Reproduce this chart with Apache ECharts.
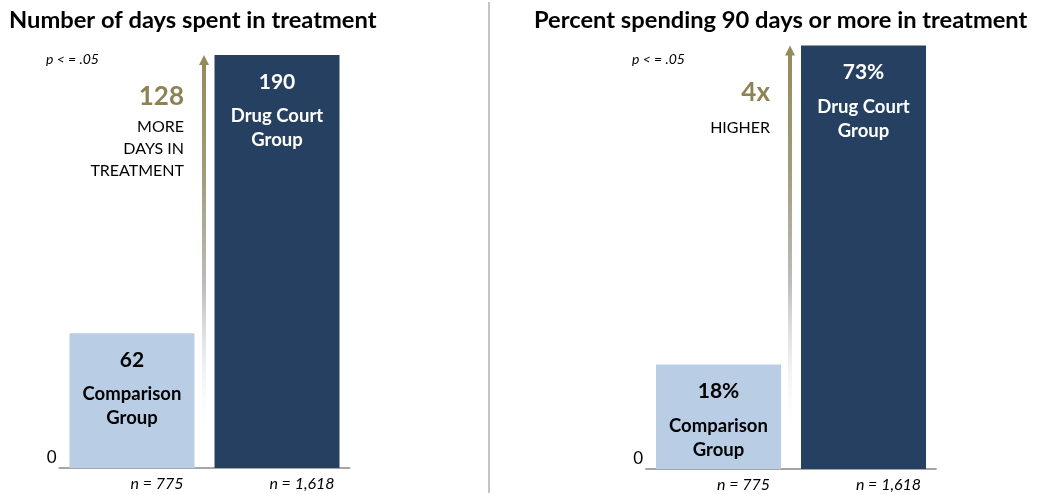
<!DOCTYPE html>
<html><head><meta charset="utf-8">
<script src="https://cdn.jsdelivr.net/npm/echarts@6/dist/echarts.min.js"></script>
<style>html,body{margin:0;padding:0;background:#fff}#c{width:1039px;height:495px}</style>
</head><body><div id="c"></div>
<script>
// ---- data ----
const categories = ['Comparison Group', 'Drug Court Group'];
const sampleLabels = ['n = 775', 'n = 1,618'];
const daysValues = [62, 190];
const percentValues = [18, 73];
const valueSuffix = ['', '%'];
const titles = ['Number of days spent in treatment', 'Percent spending 90 days or more in treatment'];
const diffBig = ['128', '4x'];
const diffWords = [['MORE', 'DAYS IN', 'TREATMENT'], ['HIGHER']];
const pLabel = 'p < = .05';
const yMax = [200, 80];

// ---- style ----
const FONT = 'Lato, "Open Sans", sans-serif';
const LIGHT = '#b9cde5', DARK = '#264061', GOLD = '#948a5a', GOLD_TXT = '#8d8253';
const panels = [daysValues, percentValues];
const grids = [
  { left: 59.5, width: 290, top: 33.3, height: 434.7 },
  { left: 646, width: 290, top: 5, height: 464 }
];

const chart = echarts.init(document.getElementById('c'), null, { renderer: 'canvas' });

const series = panels.map((vals, i) => ({
  type: 'bar',
  xAxisIndex: i, yAxisIndex: i,
  barWidth: 125,
  silent: true,
  data: vals.map((v, j) => ({
    value: v,
    itemStyle: { color: j === 0 ? LIGHT : DARK },
    label: { color: j === 0 ? '#000' : '#fff' }
  })),
  label: {
    show: true, position: 'insideTop', distance: 5, fontFamily: FONT,
    formatter: p => '{v|' + p.value + valueSuffix[i] + '}\n{n|' + p.name.replace(/ Group$/, '') + '}\n{n|Group}',
    rich: {
      v: { fontSize: 21, fontWeight: 'bold', lineHeight: 44, fontFamily: FONT },
      n: { fontSize: 18.5, fontWeight: 'bold', lineHeight: 24, fontFamily: FONT }
    }
  }
}));

const option = {
  animation: false,
  backgroundColor: '#fff',
  title: titles.map((t, i) => ({
    text: t, left: i === 0 ? 4 : 529, top: 3,
    textStyle: { fontFamily: FONT, fontSize: 23.7, fontWeight: 'bold', color: '#000' }
  })),
  grid: grids,
  xAxis: panels.map((_, i) => ({
    type: 'category', gridIndex: i, data: categories,
    axisLine: { lineStyle: { color: '#a6a6a6', width: 2 } },
    axisTick: { show: false },
    axisLabel: {
      interval: 0, margin: 8, fontFamily: FONT, fontSize: 16, fontStyle: 'italic', color: '#000',
      padding: [0, 0, 0, 50],
      formatter: (v, idx) => sampleLabels[idx]
    }
  })),
  yAxis: panels.map((_, i) => ({
    type: 'value', gridIndex: i, min: 0, max: yMax[i], interval: yMax[i],
    splitLine: { show: false }, axisLine: { show: false }, axisTick: { show: false },
    axisLabel: {
      margin: 3, fontFamily: FONT, fontSize: 17, color: '#000', verticalAlign: 'bottom',
      padding: [0, 0, 2, 0],
      formatter: v => v === 0 ? '0' : ''
    }
  })),
  series: series,
  graphic: [{
    type: 'rect', silent: true,
    shape: { x: 488, y: 2, width: 2, height: 491 },
    style: { fill: '#c4c4c4' }
  }]
};
chart.setOption(option);

// ---- arrows and annotations, anchored on the axes ----
const extra = [];
panels.forEach((vals, i) => {
  const p0 = chart.convertToPixel({ gridIndex: i }, [0, 0]);
  const p1 = chart.convertToPixel({ gridIndex: i }, [1, vals[1]]);
  const x = Math.round((p0[0] + p1[0]) / 2) - 1;
  const top = p1[1];
  const base = p0[1];
  extra.push({
    type: 'rect', silent: true,
    shape: { x: x - 2, y: top + 8, width: 4, height: base - 30 - (top + 8) },
    style: {
      fill: new echarts.graphic.LinearGradient(0, 0, 0, 1, [
        { offset: 0, color: GOLD },
        { offset: 0.3, color: '#a29c7c' },
        { offset: 0.6, color: '#bdbdbd' },
        { offset: 1, color: 'rgba(255,255,255,0)' }
      ])
    }
  });
  extra.push({
    type: 'polygon', silent: true,
    shape: { points: [[x - 5, top + 10], [x, top], [x + 5, top + 10]] },
    style: { fill: GOLD }
  });
  extra.push({
    type: 'text', silent: true, x: x - 158, y: 59,
    style: { text: pLabel, fontFamily: FONT, fontSize: 14, fontStyle: 'italic', fill: '#000', verticalAlign: 'middle', align: 'left' }
  });
  const bigY = i === 0 ? top + 42 : top + 47;
  extra.push({
    type: 'text', silent: true, x: x - 20, y: bigY,
    style: { text: diffBig[i], fontFamily: FONT, fontSize: 26, fontWeight: 'bold', fill: GOLD_TXT, verticalAlign: 'middle', align: 'right' }
  });
  const wordsY = i === 0 ? top + 72 : top + 82;
  diffWords[i].forEach((w, k) => {
    extra.push({
      type: 'text', silent: true, x: x - 20, y: wordsY + k * 22,
      style: { text: w, fontFamily: FONT, fontSize: 16, fill: '#000', verticalAlign: 'middle', align: 'right' }
    });
  });
});
chart.setOption({ graphic: option.graphic.concat(extra) });
</script>
</body></html>
